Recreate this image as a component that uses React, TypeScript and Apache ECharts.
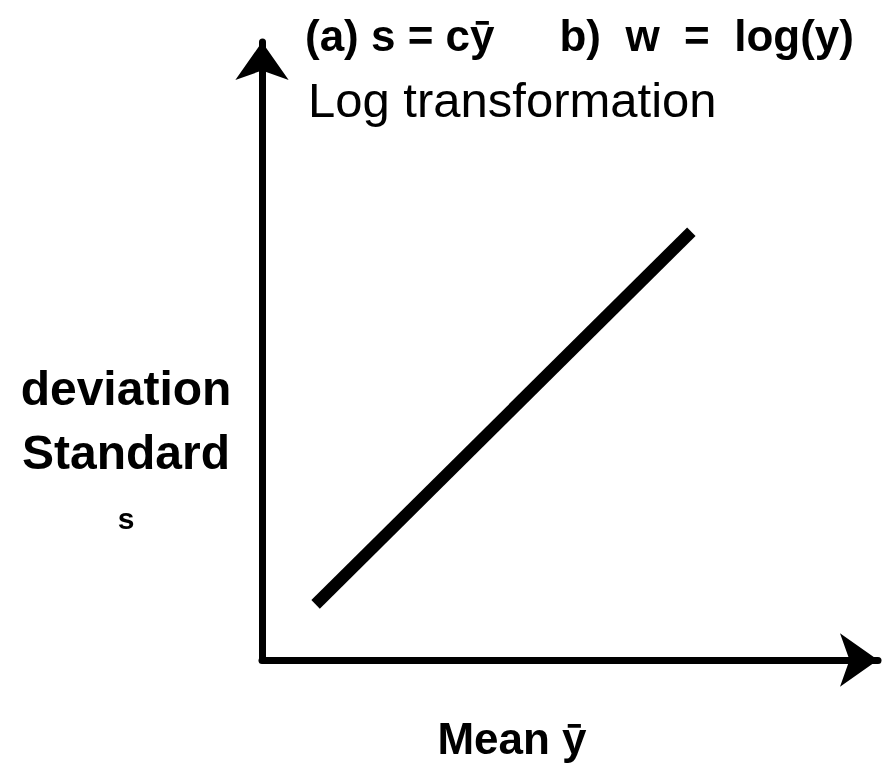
import React, { useEffect, useRef } from "react";
import * as echarts from "echarts";

const linePoints: [number, number][] = [
  [0.87, 0.9],
  [6.97, 6.93],
];
const titlePartA = "(a) s = cȳ";
const titlePartB = "b)  w  =  log(y)";
const titleLine2 = "Log transformation";
const yLabelLines = ["deviation", "Standard", "s"];
const xLabel = "Mean ȳ";

export default function App() {
  const ref = useRef<HTMLDivElement>(null);
  useEffect(() => {
    const chart = echarts.init(ref.current!, undefined, { renderer: "svg" });
    const font = "'Liberation Sans', Arial, sans-serif";
    const axisLine = {
      show: true,
      symbol: ["none", "arrow"],
      symbolSize: [40, 38],
      lineStyle: { color: "#000", width: 7 },
    };
    chart.setOption({
      animation: false,
      grid: { left: 262, right: 4, top: 42, bottom: 104 },
      xAxis: {
        type: "value",
        min: 0,
        max: 10,
        axisLine,
        axisTick: { show: false },
        axisLabel: { show: false },
        splitLine: { show: false },
      },
      yAxis: {
        type: "value",
        min: 0,
        max: 10,
        axisLine,
        axisTick: { show: false },
        axisLabel: { show: false },
        splitLine: { show: false },
      },
      series: [
        {
          type: "line",
          data: linePoints,
          showSymbol: false,
          lineStyle: { color: "#000", width: 12 },
        },
      ],
      graphic: [
        {
          type: "text",
          x: 305,
          y: 35,
          style: {
            text: titlePartA,
            font: `bold 44px ${font}`,
            fill: "#000",
            verticalAlign: "middle",
          },
        },
        {
          type: "text",
          x: 854,
          y: 35,
          style: {
            text: titlePartB,
            font: `bold 44px ${font}`,
            fill: "#000",
            align: "right",
            verticalAlign: "middle",
          },
        },
        {
          type: "text",
          x: 308,
          y: 100,
          style: {
            text: titleLine2,
            font: `49px ${font}`,
            fill: "#000",
            verticalAlign: "middle",
          },
        },
        ...yLabelLines.map((t, i) => ({
          type: "text",
          x: 126,
          y: [388, 452, 518][i],
          style: {
            text: t,
            font: `bold ${i === 2 ? 30 : 48}px ${font}`,
            fill: "#000",
            align: "center",
            verticalAlign: "middle",
          },
        })),
        {
          type: "text",
          x: 512,
          y: 738,
          style: {
            text: xLabel,
            font: `bold 44px ${font}`,
            fill: "#000",
            align: "center",
            verticalAlign: "middle",
          },
        },
      ],
    });
    return () => chart.dispose();
  }, []);
  return (
    <div
      ref={ref}
      style={{ position: "fixed", left: 0, top: 0, width: 882, height: 764 }}
    />
  );
}
